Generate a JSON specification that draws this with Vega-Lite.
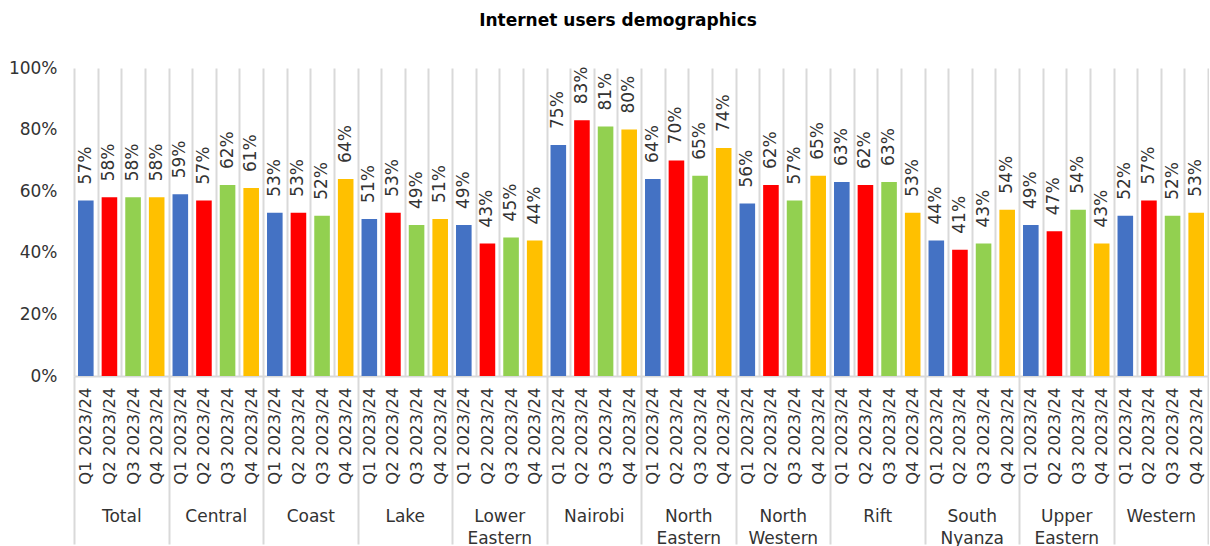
{
  "$schema": "https://vega.github.io/schema/vega-lite/v6.json",
  "width": 1134,
  "height": 308,
  "padding": {"left": 8, "top": 12, "right": 0, "bottom": 0},
  "background": "white",
  "title": {"text": "Internet users demographics", "fontSize": 17, "fontWeight": "bold", "font": "DejaVu Sans", "color": "#000000", "anchor": "middle", "offset": 29, "dx": -23},
  "config": {"view": {"stroke": null}, "font": "DejaVu Sans"},
  "data": {"values": [
    {"region": "Total", "q": "Q1", "key": "Total|Q1 2023/24", "value": 0.57},
    {"region": "Total", "q": "Q2", "key": "Total|Q2 2023/24", "value": 0.58},
    {"region": "Total", "q": "Q3", "key": "Total|Q3 2023/24", "value": 0.58},
    {"region": "Total", "q": "Q4", "key": "Total|Q4 2023/24", "value": 0.58},
    {"region": "Central", "q": "Q1", "key": "Central|Q1 2023/24", "value": 0.59},
    {"region": "Central", "q": "Q2", "key": "Central|Q2 2023/24", "value": 0.57},
    {"region": "Central", "q": "Q3", "key": "Central|Q3 2023/24", "value": 0.62},
    {"region": "Central", "q": "Q4", "key": "Central|Q4 2023/24", "value": 0.61},
    {"region": "Coast", "q": "Q1", "key": "Coast|Q1 2023/24", "value": 0.53},
    {"region": "Coast", "q": "Q2", "key": "Coast|Q2 2023/24", "value": 0.53},
    {"region": "Coast", "q": "Q3", "key": "Coast|Q3 2023/24", "value": 0.52},
    {"region": "Coast", "q": "Q4", "key": "Coast|Q4 2023/24", "value": 0.64},
    {"region": "Lake", "q": "Q1", "key": "Lake|Q1 2023/24", "value": 0.51},
    {"region": "Lake", "q": "Q2", "key": "Lake|Q2 2023/24", "value": 0.53},
    {"region": "Lake", "q": "Q3", "key": "Lake|Q3 2023/24", "value": 0.49},
    {"region": "Lake", "q": "Q4", "key": "Lake|Q4 2023/24", "value": 0.51},
    {"region": "Lower Eastern", "q": "Q1", "key": "Lower Eastern|Q1 2023/24", "value": 0.49},
    {"region": "Lower Eastern", "q": "Q2", "key": "Lower Eastern|Q2 2023/24", "value": 0.43},
    {"region": "Lower Eastern", "q": "Q3", "key": "Lower Eastern|Q3 2023/24", "value": 0.45},
    {"region": "Lower Eastern", "q": "Q4", "key": "Lower Eastern|Q4 2023/24", "value": 0.44},
    {"region": "Nairobi", "q": "Q1", "key": "Nairobi|Q1 2023/24", "value": 0.75},
    {"region": "Nairobi", "q": "Q2", "key": "Nairobi|Q2 2023/24", "value": 0.83},
    {"region": "Nairobi", "q": "Q3", "key": "Nairobi|Q3 2023/24", "value": 0.81},
    {"region": "Nairobi", "q": "Q4", "key": "Nairobi|Q4 2023/24", "value": 0.80},
    {"region": "North Eastern", "q": "Q1", "key": "North Eastern|Q1 2023/24", "value": 0.64},
    {"region": "North Eastern", "q": "Q2", "key": "North Eastern|Q2 2023/24", "value": 0.70},
    {"region": "North Eastern", "q": "Q3", "key": "North Eastern|Q3 2023/24", "value": 0.65},
    {"region": "North Eastern", "q": "Q4", "key": "North Eastern|Q4 2023/24", "value": 0.74},
    {"region": "North Western", "q": "Q1", "key": "North Western|Q1 2023/24", "value": 0.56},
    {"region": "North Western", "q": "Q2", "key": "North Western|Q2 2023/24", "value": 0.62},
    {"region": "North Western", "q": "Q3", "key": "North Western|Q3 2023/24", "value": 0.57},
    {"region": "North Western", "q": "Q4", "key": "North Western|Q4 2023/24", "value": 0.65},
    {"region": "Rift", "q": "Q1", "key": "Rift|Q1 2023/24", "value": 0.63},
    {"region": "Rift", "q": "Q2", "key": "Rift|Q2 2023/24", "value": 0.62},
    {"region": "Rift", "q": "Q3", "key": "Rift|Q3 2023/24", "value": 0.63},
    {"region": "Rift", "q": "Q4", "key": "Rift|Q4 2023/24", "value": 0.53},
    {"region": "South Nyanza", "q": "Q1", "key": "South Nyanza|Q1 2023/24", "value": 0.44},
    {"region": "South Nyanza", "q": "Q2", "key": "South Nyanza|Q2 2023/24", "value": 0.41},
    {"region": "South Nyanza", "q": "Q3", "key": "South Nyanza|Q3 2023/24", "value": 0.43},
    {"region": "South Nyanza", "q": "Q4", "key": "South Nyanza|Q4 2023/24", "value": 0.54},
    {"region": "Upper Eastern", "q": "Q1", "key": "Upper Eastern|Q1 2023/24", "value": 0.49},
    {"region": "Upper Eastern", "q": "Q2", "key": "Upper Eastern|Q2 2023/24", "value": 0.47},
    {"region": "Upper Eastern", "q": "Q3", "key": "Upper Eastern|Q3 2023/24", "value": 0.54},
    {"region": "Upper Eastern", "q": "Q4", "key": "Upper Eastern|Q4 2023/24", "value": 0.43},
    {"region": "Western", "q": "Q1", "key": "Western|Q1 2023/24", "value": 0.52},
    {"region": "Western", "q": "Q2", "key": "Western|Q2 2023/24", "value": 0.57},
    {"region": "Western", "q": "Q3", "key": "Western|Q3 2023/24", "value": 0.52},
    {"region": "Western", "q": "Q4", "key": "Western|Q4 2023/24", "value": 0.53}
  ]},
  "layer": [
    {
      "layer": [
        {
          "mark": {"type": "bar", "width": {"band": 0.66}},
          "encoding": {
            "x": {"field": "key", "type": "nominal", "sort": null,
              "scale": {"paddingInner": 0, "paddingOuter": 0},
              "axis": {"orient": "bottom", "title": null, "grid": true, "tickBand": "extent", "gridColor": "#d9d9d9", "gridWidth": 2,
                "domain": true, "domainColor": "#d9d9d9", "domainWidth": 2, "ticks": false,
                "labelExpr": "split(datum.value, '|')[1]", "labelAngle": 270, "labelAlign": "right", "labelBaseline": "middle",
                "labelFontSize": 16.5, "labelColor": "#333333", "labelPadding": 11, "labelOverlap": false, "labelBound": false}},
            "y": {"field": "value", "type": "quantitative",
              "scale": {"domain": [0, 1], "nice": false},
              "axis": {"title": null, "values": [0, 0.2, 0.4, 0.6, 0.8, 1], "format": ".0%", "grid": false, "domain": false, "ticks": false,
                "labelFontSize": 17, "labelColor": "#333333", "labelPadding": 17}},
            "color": {"field": "q", "type": "nominal",
              "scale": {"domain": ["Q1", "Q2", "Q3", "Q4"], "range": ["#4472C4", "#FF0000", "#92D050", "#FFC000"]},
              "legend": null}
          }
        },
        {
          "mark": {"type": "text", "angle": 270, "align": "left", "baseline": "middle", "dx": 16, "fontSize": 17, "color": "#333333"},
          "encoding": {
            "x": {"field": "key", "type": "nominal", "sort": null},
            "y": {"field": "value", "type": "quantitative"},
            "text": {"field": "value", "type": "quantitative", "format": ".0%"}
          }
        }
      ]
    },
    {
      "mark": {"type": "point", "opacity": 0},
      "encoding": {
        "x": {"field": "region", "type": "nominal", "sort": null,
          "scale": {"paddingInner": 0, "paddingOuter": 0},
          "axis": {"orient": "bottom", "title": null, "grid": false, "domain": false, "ticks": true, "tickBand": "extent", "tickSize": 168,
            "tickColor": "#d9d9d9", "tickWidth": 2, "labelAngle": 0, "labelAlign": "center", "labelBaseline": "top",
            "labelExpr": "split(datum.label, ' ')", "labelLineHeight": 22, "labelFontSize": 17, "labelColor": "#333333",
            "labelPadding": -36, "labelOverlap": false, "labelBound": false}},
        "y": {"field": "value", "type": "quantitative"}
      }
    }
  ],
  "resolve": {"scale": {"x": "independent"}}
}
